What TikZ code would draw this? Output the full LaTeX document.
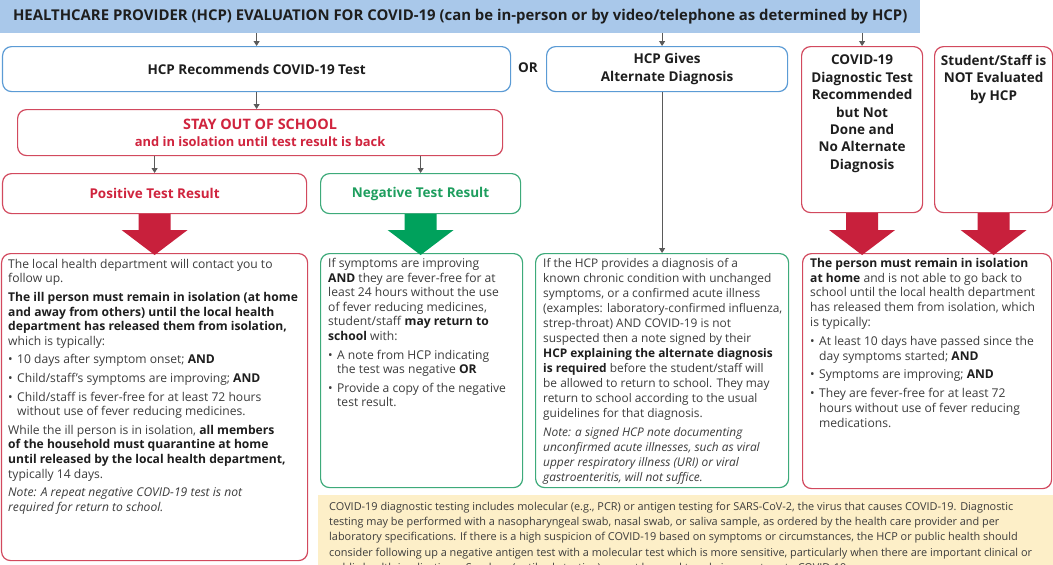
\documentclass[tikz,border=0pt]{standalone}
\usepackage{fontspec}
\setmainfont{Open Sans}
\usetikzlibrary{arrows.meta,calc}
\definecolor{hdrblue}{HTML}{A9C8EA}
\definecolor{bordblue}{HTML}{5B9BD5}
\definecolor{bordred}{HTML}{D2495E}
\definecolor{txtred}{HTML}{D0243E}
\definecolor{arrred}{HTML}{C8203C}
\definecolor{bordgreen}{HTML}{3DAA7A}
\definecolor{txtgreen}{HTML}{1E9E5E}
\definecolor{arrgreen}{HTML}{00A15C}
\definecolor{bodytxt}{HTML}{3C3C3C}
\definecolor{darktxt}{HTML}{1E1E1E}
\definecolor{notefill}{HTML}{FDEFC8}
\definecolor{thinarr}{HTML}{5A5A5A}
\newcommand\hb[1]{\textbf{\color{darktxt}#1}}
\newcommand\hbul{\makebox[9pt][l]{•}}
\newcommand\hind{\hspace*{9pt}}
\newcommand\blockarrow[3]{\fill[#1] let \p1=(#2.south), \p2=(#3.north) in
  (\x1-16pt,\y1) -- (\x1+16pt,\y1) -- (\x1+16pt,\y2+23pt) -- (\x1+33pt,\y2+23pt)
  -- (\x1,\y2-2pt) -- (\x1-33pt,\y2+23pt) -- (\x1-16pt,\y2+23pt) -- cycle;}
\begin{document}
\begin{tikzpicture}[x=1pt,y=-1pt,
  box/.style={draw, rounded corners=9pt, line width=1.2pt, inner sep=0pt, anchor=north west, fill=white},
  title/.style={font=\bfseries\fontsize{13.5}{17.4}\selectfont, text=darktxt, align=center, inner sep=0pt},
  body/.style={anchor=north west, inner sep=0pt, align=left, font=\fontsize{12.1}{14.6}\selectfont, text=bodytxt},
  thin/.style={draw=thinarr, line width=0.9pt, -{Triangle[width=6pt,length=5pt]}}]
\clip (0,0) rectangle (1053,565);
\fill[white] (0,0) rectangle (1053,565);
% header
\node[anchor=north west, fill=hdrblue, minimum width=920pt, minimum height=33pt, inner sep=0pt,
  font=\bfseries\fontsize{14.9}{16}\selectfont, text=darktxt] (header) at (0,0)
  {HEALTHCARE PROVIDER (HCP) EVALUATION FOR COVID-19 (can be in-person or by video/telephone as determined by HCP)};
% top row
\node[box, draw=bordblue, minimum width=508pt, minimum height=45pt, title] (rec) at (2,46) {HCP Recommends COVID-19 Test};
\node[title] (or) at (528,68) {OR};
\node[box, draw=bordblue, minimum width=241pt, minimum height=45pt] (gives) at (546,46) {};
\node[title] (givest) at (gives.center) {HCP Gives\\Alternate Diagnosis};
\node[box, draw=bordred, minimum width=121pt, minimum height=166pt] (covid) at (801,46) {};
\node[title, anchor=north] (covidt) at ($(covid.north)+(0,9)$) {COVID-19\\Diagnostic Test\\Recommended\\but Not\\Done and\\No Alternate\\Diagnosis};
\node[box, draw=bordred, minimum width=118pt, minimum height=166pt] (student) at (934,46) {};
\node[title, anchor=north] (studentt) at ($(student.north)+(0,9)$) {Student/Staff is\\NOT Evaluated\\by HCP};
% stay out
\node[box, draw=bordred, minimum width=485pt, minimum height=46pt, align=center, text=txtred, font=\bfseries\fontsize{12.9}{17}\selectfont] (stay) at (17,109)
  {{\fontsize{14.4}{17}\selectfont STAY OUT OF SCHOOL}\\and in isolation until test result is back};
% results
\node[box, draw=bordred, minimum width=304pt, minimum height=40pt, title, text=txtred] (pos) at (2,173) {Positive Test Result};
\node[box, draw=bordgreen, minimum width=200pt, minimum height=40pt, title, text=txtgreen] (neg) at (320,173) {Negative Test Result};
% bottom boxes
\node[box, draw=bordred, minimum width=306pt, minimum height=307pt] (posbody) at (1,253) {};
\node[box, draw=bordgreen, minimum width=202pt, minimum height=234pt] (negbody) at (320,253) {};
\node[box, draw=bordgreen, minimum width=253pt, minimum height=234pt] (altbody) at (535,253) {};
\node[box, draw=bordred, minimum width=249pt, minimum height=235pt] (rightbody) at (802,253) {};
% note
\node[anchor=north west, fill=notefill, minimum width=735pt, minimum height=80pt, inner sep=0pt] (note) at (318,495) {};
% body texts
\node[body] (post) at (8,259) {The local health department will contact you to\\
follow up.\\[4pt]
\hb{The ill person must remain in isolation (at home}\\
\hb{and away from others) until the local health}\\
\hb{department has released them from isolation,}\\
which is typically:\\[4pt]
\hbul 10 days after symptom onset; \hb{AND}\\[4pt]
\hbul Child/staff’s symptoms are improving; \hb{AND}\\[4pt]
\hbul Child/staff is fever-free for at least 72 hours\\
\hind without use of fever reducing medicines.\\[4pt]
While the ill person is in isolation, \hb{all members}\\
\hb{of the household must quarantine at home}\\
\hb{until released by the local health department,}\\
typically 14 days.\\[4pt]
\textit{Note: A repeat negative COVID-19 test is not}\\
\textit{required for return to school.}};
\node[body] (negt) at (328,258) {If symptoms are improving\\
\hb{AND} they are fever-free for at\\
least 24 hours without the use\\
of fever reducing medicines,\\
student/staff \hb{may return to}\\
\hb{school} with:\\[4pt]
\hbul A note from HCP indicating\\
\hind the test was negative \hb{OR}\\[4pt]
\hbul Provide a copy of the negative\\
\hind test result.};
\node[body, font=\fontsize{11.9}{15}\selectfont] (altt) at (543,258) {If the HCP provides a diagnosis of a\\
known chronic condition with unchanged\\
symptoms, or a confirmed acute illness\\
(examples: laboratory-confirmed influenza,\\
strep-throat) AND COVID-19 is not\\
suspected then a note signed by their\\
\hb{HCP explaining the alternate diagnosis}\\
\hb{is required} before the student/staff will\\
be allowed to return to school. They may\\
return to school according to the usual\\
guidelines for that diagnosis.\\[4pt]
\textit{Note: a signed HCP note documenting}\\
\textit{unconfirmed acute illnesses, such as viral}\\
\textit{upper respiratory illness (URI) or viral}\\
\textit{gastroenteritis, will not suffice.}};
\node[body, font=\fontsize{12.1}{14.8}\selectfont] (rightt) at (810,258) {\hb{The person must remain in isolation}\\
\hb{at home} and is not able to go back to\\
school until the local health department\\
has released them from isolation, which\\
is typically:\\[4pt]
\hbul At least 10 days have passed since the\\
\hind day symptoms started; \hb{AND}\\[4pt]
\hbul Symptoms are improving; \hb{AND}\\[4pt]
\hbul They are fever-free for at least 72\\
\hind hours without use of fever reducing\\
\hind medications.};
\node[body, font=\fontsize{10.9}{15.2}\selectfont] (notet) at (329,502) {COVID-19 diagnostic testing includes molecular (e.g., PCR) or antigen testing for SARS-CoV-2, the virus that causes COVID-19. Diagnostic\\
testing may be performed with a nasopharyngeal swab, nasal swab, or saliva sample, as ordered by the health care provider and per\\
laboratory specifications. If there is a high suspicion of COVID-19 based on symptoms or circumstances, the HCP or public health should\\
consider following up a negative antigen test with a molecular test which is more sensitive, particularly when there are important clinical or\\
public health implications. Serology (antibody testing) cannot be used to rule in or out acute COVID-19.};
% thin arrows
\draw[thin] (header.south -| rec.north) -- (rec.north);
\draw[thin] (header.south -| altbody.north) -- (gives.north -| altbody.north);
\draw[thin] (header.south -| covid.north) -- (covid.north);
\draw[thin] (rec.south) -- (rec.south |- stay.north);
\draw[thin] (stay.south -| pos.north) -- (pos.north);
\draw[thin] (stay.south -| neg.north) -- (neg.north);
\draw[thin] (gives.south -| altbody.north) -- (altbody.north);
% block arrows
\blockarrow{arrred}{pos}{posbody}
\blockarrow{arrgreen}{neg}{negbody}
\blockarrow{arrred}{covid}{rightbody}
\blockarrow{arrred}{student}{rightbody}
\end{tikzpicture}
\end{document}
